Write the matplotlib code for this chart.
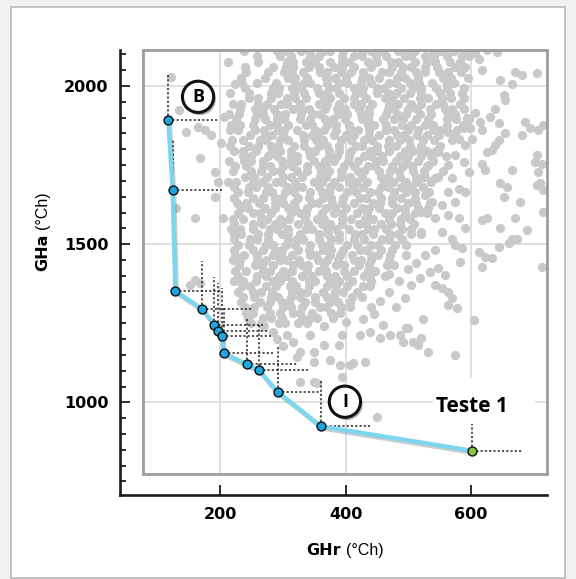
import matplotlib
matplotlib.use("Agg")
import matplotlib.pyplot as plt
import matplotlib.patheffects as pe
from matplotlib.patches import Rectangle
from matplotlib.ticker import MultipleLocator

# fronteira (pontos azuis): GHr, GHa
front_x = [117.6, 124.6, 128.8, 171.5, 190.5, 196.3, 202.7, 206.0, 243.0, 261.8, 291.6, 361.0]
front_y = [1892, 1671, 1352, 1295, 1246, 1227, 1209, 1155, 1120, 1102, 1033, 924]
# comprimento das linhas pontilhadas (para a direita / para cima)
front_dx = [79, 78, 74, 79, 78, 81, 79, 78, 79, 79, 70, 78]
front_dy = [150, 158, 150, 152, 151, 150, 151, 150, 151, 148, 148, 149]

# ponto "Teste 1" (verde)
teste_x, teste_y = 601, 847
teste_dx, teste_dy = 80, 84

# nuvem de pontos cinza, por linhas (GHa, [GHr...])
rows_top = [
    (2110, [238, 290, 302, 329, 344, 366, 376, 396, 426, 440, 458, 483, 494, 511, 539, 552, 573, 589]),
    (2094, [259, 295, 313, 344, 358, 394, 413, 426, 449, 465, 494, 505, 526, 541, 561, 585, 597]),
    (2077, [261, 306, 316, 337, 351, 376, 395, 406, 435, 450, 472, 484, 511, 529, 543, 566, 583]),
    (2060, [240, 285, 305, 316, 342, 358, 381, 394, 413, 440, 474, 491, 505, 527, 545, 575, 590]),
    (2043, [241, 276, 302, 314, 332, 360, 370, 393, 408, 428, 458, 469, 488, 513, 527, 549, 563, 584]),
    (2027, [233, 272, 309, 319, 339, 369, 383, 401, 426, 437, 454, 482, 495, 516, 556, 568, 595]),
    (2010, [235, 259, 289, 320, 334, 344, 370, 389, 402, 425, 441, 470, 481, 502, 517, 537, 561, 573]),
    (1994, [239, 284, 294, 315, 329, 354, 373, 384, 413, 428, 450, 462, 489, 507, 521, 544, 561, 589]),
    (1977, [216, 246, 281, 292, 318, 334, 357, 370, 389, 416, 426, 450, 467, 481, 503, 521, 551, 566, 586]),
    (1961, [246, 260, 281, 307, 319, 337, 365, 375, 398, 413, 433, 463, 474, 493, 518, 532, 554, 568, 589]),
    (1944, [221, 233, 260, 275, 297, 307, 327, 357, 371, 389, 414, 425, 442, 470, 483, 504, 520, 544, 556, 583]),
    (1928, [232, 256, 268, 286, 317, 331, 341, 367, 386, 399, 422, 438, 467, 478, 499, 514, 534, 558, 570, 588]),
    (1911, [214, 231, 259, 269, 290, 304, 329, 348, 359, 388, 403, 425, 437, 464, 482, 496, 519, 536, 564, 574]),
    (1895, [226, 256, 271, 291, 302, 328, 344, 367, 380, 399, 426, 436, 460, 477, 491, 513, 531, 561, 576, 596]),
    (1878, [218, 232, 253, 279, 291, 309, 337, 347, 370, 385, 405, 435, 446, 465, 490, 504, 526, 540, 561, 587]),
    (1862, [216, 228, 255, 270, 292, 302, 322, 352, 366, 384, 409, 420, 437, 465, 478, 499, 515, 539, 551, 578]),
]
rows_mid = [
    (1845, [247, 271, 283, 301, 332, 346, 356, 382, 401, 414, 437, 453, 482, 493, 514, 529, 549, 573]),
    (1829, [219, 236, 264, 274, 295, 309, 334, 353, 364, 393, 408, 430, 442, 469, 487, 501, 524, 541, 569]),
    (1812, [216, 246, 261, 281, 292, 318, 334, 357, 370, 389, 416, 426, 450, 467, 481, 503, 521, 551]),
    (1796, [222, 236, 257, 283, 295, 313, 341, 351, 374, 389, 409, 439, 450, 469, 494, 508, 530, 544]),
    (1779, [237, 249, 276, 291, 313, 323, 343, 373, 387, 405, 430, 441, 458, 486, 499, 520, 536, 560]),
    (1763, [214, 238, 250, 268, 299, 313, 323, 349, 368, 381, 404, 420, 449, 460, 481, 496, 516, 540]),
    (1746, [224, 241, 269, 279, 300, 314, 339, 358, 369, 398, 413, 435, 447, 474, 492, 506, 529]),
    (1730, [220, 250, 265, 285, 296, 322, 338, 361, 374, 393, 420, 430, 454, 471, 485, 507, 525, 555]),
    (1713, [240, 254, 275, 301, 313, 331, 359, 369, 392, 407, 427, 457, 468, 487, 512, 526, 548]),
    (1697, [213, 225, 252, 267, 289, 299, 319, 349, 363, 381, 406, 417, 434, 462, 475, 496, 512, 536]),
    (1680, [222, 246, 258, 276, 307, 321, 331, 357, 376, 389, 412, 428, 457, 468, 489, 504, 524]),
    (1664, [228, 245, 273, 283, 304, 318, 343, 362, 373, 402, 417, 439, 451, 478, 496, 510, 533]),
    (1647, [223, 253, 268, 288, 299, 325, 341, 364, 377, 396, 423, 433, 457, 474, 488, 510]),
    (1631, [227, 241, 262, 288, 300, 318, 346, 356, 379, 394, 414, 444, 455, 474, 499, 513, 535]),
    (1614, [233, 245, 272, 287, 309, 319, 339, 369, 383, 401, 426, 437, 454, 482, 495, 516, 532]),
    (1598, [228, 252, 264, 282, 313, 327, 337, 363, 382, 395, 418, 434, 463, 474, 495, 510, 530]),
    (1581, [220, 237, 265, 275, 296, 310, 335, 354, 365, 394, 409, 431, 443, 470, 488, 502]),
    (1565, [222, 252, 267, 287, 298, 324, 340, 363, 376, 395, 422, 432, 456, 473, 487, 509]),
    (1548, [218, 232, 253, 279, 291, 309, 337, 347, 370, 385, 405, 435, 446, 465, 490, 504]),
    (1532, [222, 234, 261, 276, 298, 308, 328, 358, 372, 390, 415, 426, 443, 471, 484, 505, 521]),
]
rows_low = [
    (1515, [223, 247, 259, 277, 308, 322, 332, 358, 377, 390, 413, 429, 458, 469, 490]),
    (1499, [229, 246, 274, 284, 305, 319, 344, 363, 374, 403, 418, 440, 452, 479, 497]),
    (1482, [223, 253, 268, 288, 299, 325, 341, 364, 377, 396, 423, 433, 457, 474]),
    (1466, [224, 238, 259, 285, 297, 315, 343, 353, 376, 391, 411, 441, 452, 471, 496]),
    (1449, [220, 232, 259, 274, 296, 306, 326, 356, 370, 388, 413, 424, 441, 469]),
    (1433, [231, 255, 267, 285, 316, 330, 340, 366, 385, 398, 421, 437, 466, 477]),
    (1416, [224, 241, 269, 279, 300, 314, 339, 358, 369, 398, 413, 435, 447]),
    (1400, [229, 259, 274, 294, 305, 331, 347, 370, 383, 402, 429, 439, 463]),
    (1383, [223, 237, 258, 284, 296, 314, 342, 352, 375, 390, 410, 440]),
    (1367, [235, 247, 274, 289, 311, 321, 341, 371, 385, 403, 428, 439]),
    (1350, [229, 253, 265, 283, 314, 328, 338, 364, 383, 396, 419]),
    (1334, [237, 254, 282, 292, 313, 327, 352, 371, 382, 411, 426]),
    (1317, [234, 264, 279, 299, 310, 336, 352, 375, 388, 407]),
    (1301, [240, 254, 275, 301, 313, 331, 359, 369, 392, 407]),
    (1284, [241, 253, 280, 295, 317, 327, 347, 377, 391]),
    (1268, [245, 269, 281, 299, 330, 344, 354, 380]),
    (1251, [249, 266, 294, 304, 325, 339]),
]
# pontos isolados (GHr, GHa)
cloud_extra = [
    (306, 1213), (317, 1192), (343, 1213), (328, 1160), (349, 1160), (365, 1181),
    (389, 1181), (394, 1213), (423, 1213), (439, 1223), (455, 1202), (471, 1213),
    (460, 1244), (487, 1213), (497, 1234), (492, 1192), (508, 1192), (375, 1134),
    (407, 1118), (431, 1128), (322, 1144), (349, 1128), (391, 1118), (412, 1123),
    (394, 1081), (349, 1065), (328, 1065), (354, 1060), (450, 955), (575, 1150),
    (532, 1160), (524, 1262), (500, 1234), (604, 1260), (516, 1181), (521, 1202),
    (270, 1240), (285, 1222), (290, 1200), (300, 1178), (365, 1240), (400, 1255),
    (519, 1392), (535, 1413), (548, 1424), (559, 1402), (543, 1371), (553, 1360),
    (564, 1350), (569, 1329), (564, 1308), (577, 1297), (527, 1466), (543, 1481),
    (575, 1497), (585, 1487), (583, 1445), (612, 1476), (622, 1460), (633, 1455),
    (617, 1429), (644, 1492), (660, 1503), (673, 1518), (713, 1429), (480, 1300),
    (495, 1330), (470, 1350), (505, 1370), (500, 1420), (512, 1440), (440, 1300),
    (455, 1320), (485, 1385), (470, 1405), (445, 1280), (428, 1262),
    (521, 1792), (537, 1782), (548, 1792), (532, 1750), (519, 1708), (543, 1708),
    (564, 1750), (575, 1782), (588, 1761), (596, 1729), (590, 1813), (601, 1834),
    (580, 1834), (564, 1856), (588, 1866), (598, 1866), (593, 1898), (606, 1914),
    (569, 1708), (580, 1676), (564, 1666), (590, 1666), (575, 1634), (537, 1634),
    (553, 1624), (527, 1655), (521, 1603), (543, 1582), (564, 1592), (580, 1582),
    (590, 1550), (521, 1540), (553, 1540), (569, 1518),
    (606, 2103), (625, 2114), (641, 2109), (617, 2051), (612, 2087), (646, 2019),
    (665, 2008), (670, 2045), (681, 2035), (705, 2040), (652, 1971), (654, 1956),
    (638, 1929), (630, 1903), (644, 1882), (614, 1887), (617, 1861), (686, 1887),
    (694, 1866), (681, 1845), (707, 1861), (715, 1877), (654, 1850), (644, 1829),
    (638, 1813), (705, 1782), (702, 1761), (713, 1755), (625, 1792), (633, 1798),
    (617, 1755), (622, 1734), (665, 1734), (707, 1729), (646, 1692), (657, 1682),
    (652, 1650), (678, 1634), (710, 1692), (705, 1687), (625, 1582), (617, 1576),
    (646, 1550), (670, 1582), (689, 1545), (665, 1518), (715, 1603), (715, 1671),
    (122, 2030), (135, 1924), (146, 1856), (168, 1771), (176, 1861), (186, 1845),
    (192, 1729), (192, 1650), (160, 1582), (130, 1613), (165, 1871), (202, 1819),
    (207, 1903), (197, 1697), (205, 1582), (152, 1371), (160, 1386), (168, 1378),
    (224, 2008), (212, 2075),
]

gray_x, gray_y = [], []
for rows in (rows_top, rows_mid, rows_low):
    for y, xs in rows:
        for x in xs:
            gray_x.append(x)
            gray_y.append(y)
for x, y in cloud_extra:
    gray_x.append(x)
    gray_y.append(y)

# figura com moldura
fig = plt.figure(figsize=(5.76, 5.79), dpi=100, facecolor="#f1f1f1")
fig.patches.append(Rectangle((11 / 576, 1 / 579), 554 / 576, 571 / 579,
                             transform=fig.transFigure, facecolor="white",
                             edgecolor="#b9b9b9", lw=1.2, zorder=-5))

ax = fig.add_axes([120 / 576, 84 / 579, 427 / 576, 445 / 579])
ax.set_facecolor("none")
ax.set_xlim(40.6, 721)
ax.set_ylim(707, 2114)

box_x0, box_y0, box_x1, box_y1 = 77.3, 773, 721, 2114
box = Rectangle((box_x0, box_y0), box_x1 - box_x0, box_y1 - box_y0, fill=False,
                edgecolor="#9d9d9d", lw=2, clip_on=False, zorder=2)
ax.add_patch(box)

# grade interna
ax.vlines([200, 400, 600], box_y0, box_y1, color="#dddddd", lw=1.3, zorder=0.5)
ax.hlines([1000, 1500, 2000], box_x0, box_x1, color="#dddddd", lw=1.3, zorder=0.5)
ax.add_patch(Rectangle((539, box_y0), 163, 304, facecolor="white", edgecolor="none", zorder=0.8))

sc = ax.scatter(gray_x, gray_y, s=44, color="#c9c9c9", linewidths=0, zorder=1)
sc.set_clip_path(box)

# linhas pontilhadas
dots = (0, (1.4, 1.4))
for x, y, dx, dy in zip(front_x, front_y, front_dx, front_dy):
    ax.plot([x, x], [y, y + dy], ls=dots, color="#222222", lw=1.1, zorder=3)
    ax.plot([x, x + dx], [y, y], ls=dots, color="#222222", lw=1.1, zorder=3)
ax.plot([teste_x, teste_x], [teste_y, teste_y + teste_dy], ls=dots, color="#222222", lw=1.1, zorder=3)
ax.plot([teste_x, teste_x + teste_dx], [teste_y, teste_y], ls=dots, color="#222222", lw=1.1, zorder=3)

# fronteira
ax.plot(front_x + [teste_x], front_y + [teste_y], color="#7dd5ee", lw=3.2, zorder=4,
        solid_capstyle="round",
        path_effects=[pe.SimpleLineShadow(offset=(1, -1.5), alpha=0.2), pe.Normal()])
ax.plot(front_x, front_y, "o", ms=6.4, mfc="#1ea5df", mec="#0e0e0e", mew=1, zorder=5)
ax.plot([teste_x], [teste_y], "o", ms=6.4, mfc="#8cc63f", mec="#0e0e0e", mew=1, zorder=5)

# rótulos em círculo
shadow = [pe.SimplePatchShadow(offset=(1.5, -2), shadow_rgbFace="k", alpha=0.3), pe.Normal()]
for lx, ly, txt in [(165, 1966, "B"), (399, 1002, "I")]:
    ax.plot([lx], [ly], "o", ms=22.5, mfc="white", mec="#111111", mew=2.2, zorder=7,
            path_effects=shadow)
    ax.text(lx, ly, txt, ha="center", va="center", fontsize=13, fontweight="bold",
            family="Open Sans", zorder=8)

ax.text(602, 970, "Teste 1", ha="center", va="baseline", fontsize=15,
        fontweight="bold", family="Open Sans", zorder=8)

# eixos
for side in ["top", "right"]:
    ax.spines[side].set_visible(False)
for side in ["left", "bottom"]:
    ax.spines[side].set_color("#1c1c1c")
    ax.spines[side].set_linewidth(1.9)

ax.set_xticks([200, 400, 600], labels=["200", "400", "600"], fontweight="bold")
ax.set_yticks([1000, 1500, 2000], labels=["1000", "1500", "2000"], fontweight="bold")
ax.yaxis.set_minor_locator(MultipleLocator(50))
ax.tick_params(which="major", direction="in", length=7.5, width=1.3, color="#1c1c1c",
               labelsize=11.5, pad=8.5)
ax.tick_params(axis="y", which="minor", direction="in", length=4.5, width=1.3, color="#1c1c1c")

fig.text(341 / 576, 1 - 555 / 579, "GHr", ha="right", va="baseline", fontsize=11.5,
         fontweight="bold")
fig.text(346 / 576, 1 - 555 / 579, "(°Ch)", ha="left", va="baseline", fontsize=11.5,
         family="Liberation Sans")
fig.text(47 / 576, 1 - 234 / 579, "GHa", rotation=90, rotation_mode="anchor",
         ha="right", va="baseline", fontsize=11.5, fontweight="bold")
fig.text(47 / 576, 1 - 229 / 579, "(°Ch)", rotation=90, rotation_mode="anchor",
         ha="left", va="baseline", fontsize=11.5, family="Liberation Sans")

fig.savefig("out.png", dpi=100, facecolor=fig.get_facecolor())
